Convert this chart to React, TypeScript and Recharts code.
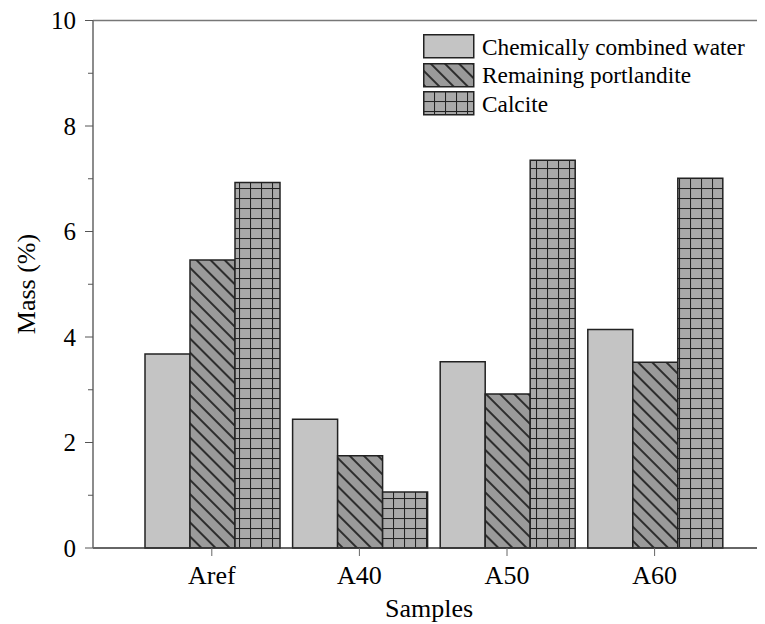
import React from 'react';
import {
  BarChart,
  Bar,
  XAxis,
  YAxis,
  Legend,
  ReferenceLine
} from 'recharts';

const categories = ['Aref', 'A40', 'A50', 'A60'];
const combinedWater = [3.68, 2.44, 3.53, 4.14];
const portlandite = [5.46, 1.75, 2.92, 3.52];
const calcite = [6.93, 1.06, 7.35, 7.01];
const yTicks = [0, 1, 2, 3, 4, 5, 6, 7, 8, 9, 10];

const seriesNames = ['Chemically combined water', 'Remaining portlandite', 'Calcite'];

const FONT = "'Liberation Serif', 'DejaVu Serif', 'Times New Roman', Times, serif";
const AXIS_X = 85; // left axis position inside the svg

const chartData = categories.map((sample, i) => ({
  sample,
  water: combinedWater[i],
  portlandite: portlandite[i],
  calcite: calcite[i]
}));

const fills = ['#c4c4c4', 'url(#hatch)', 'url(#grid)'];

// y ticks: long tick + label on even values, short tick on odd ones
const YTick = (props: any) => {
  const { y, payload } = props;
  const major = payload.value % 2 === 0;
  return (
    <g>
      <line x1={AXIS_X - (major ? 8 : 5)} x2={AXIS_X} y1={y} y2={y} stroke="#555" strokeWidth={1} />
      {major && (
        <text x={AXIS_X - 17} y={y} dy="0.35em" textAnchor="end" style={{ fontFamily: FONT }} fontSize={25} fill="#000">
          {payload.value}
        </text>
      )}
    </g>
  );
};

const LegendBox = () => (
  <div style={{ fontFamily: FONT, fontSize: 23.3, color: '#000', lineHeight: '24px' }}>
    {seriesNames.map((name, i) => (
      <div key={name} style={{ display: 'flex', alignItems: 'center', height: 28.5 }}>
        <svg width={52} height={25} style={{ marginRight: 7 }}>
          <rect x={0.75} y={0.75} width={50} height={23} fill={fills[i]} stroke="#222" strokeWidth={1.5} />
        </svg>
        <span>{name}</span>
      </div>
    ))}
  </div>
);

const App: React.FC = () => {
  return (
    <div style={{ width: 757, height: 616, background: '#fff', fontFamily: FONT }}>
      <BarChart
        width={757}
        height={616}
        data={chartData}
        margin={{ top: 12.5, right: 0, left: 0, bottom: 0 }}
        barGap={0}
        barCategoryGap={7}
        style={{ fontFamily: FONT }}
      >
        <defs>
          <pattern id="hatch" patternUnits="userSpaceOnUse" width={10} height={10} patternTransform="rotate(-45)">
            <rect width={10} height={10} fill="#9a9a9a" />
            <line x1={5} y1={0} x2={5} y2={10} stroke="#111" strokeWidth={1.6} />
          </pattern>
          <pattern id="grid" patternUnits="userSpaceOnUse" width={11} height={10}>
            <rect width={11} height={10} fill="#a9a9a9" />
            <line x1={0.5} y1={0} x2={0.5} y2={10} stroke="#222" strokeWidth={1.1} />
            <line x1={0} y1={0.5} x2={11} y2={0.5} stroke="#222" strokeWidth={1.1} />
          </pattern>
        </defs>
        <XAxis
          dataKey="sample"
          height={76}
          padding={{ left: 45, right: 36.6 }}
          tickSize={8}
          tickMargin={10}
          axisLine={{ stroke: '#333', strokeWidth: 1.5 }}
          tickLine={{ stroke: '#666' }}
          tick={{ fontSize: 26, fill: '#000', style: { fontFamily: FONT } }}
          label={{ value: 'Samples', position: 'insideBottom', offset: 7.5, fontSize: 26, fill: '#000', style: { fontFamily: FONT } }}
        />
        <YAxis
          width={85}
          domain={[0, 10]}
          ticks={yTicks}
          interval={0}
          tickLine={false}
          axisLine={{ stroke: '#666', strokeWidth: 1.5 }}
          tick={<YTick />}
          label={() => (
            <text
              x={27}
              y={276}
              transform="rotate(-90 27 276)"
              textAnchor="middle"
              style={{ fontFamily: FONT }}
              fontSize={26}
              fill="#000"
            >
              Mass (%)
            </text>
          )}
        />
        <ReferenceLine y={10} stroke="#777" strokeWidth={1.5} />
        <Legend
          layout="vertical"
          align="center"
          verticalAlign="middle"
          content={<LegendBox />}
          wrapperStyle={{ left: 415, top: 24.5, width: 340 }}
        />
        <Bar dataKey="water" name={seriesNames[0]} fill={fills[0]} stroke="#222" strokeWidth={1.5} isAnimationActive={false} />
        <Bar dataKey="portlandite" name={seriesNames[1]} fill={fills[1]} stroke="#222" strokeWidth={1.5} isAnimationActive={false} />
        <Bar dataKey="calcite" name={seriesNames[2]} fill={fills[2]} stroke="#222" strokeWidth={1.5} isAnimationActive={false} />
      </BarChart>
    </div>
  );
};

export default App;
